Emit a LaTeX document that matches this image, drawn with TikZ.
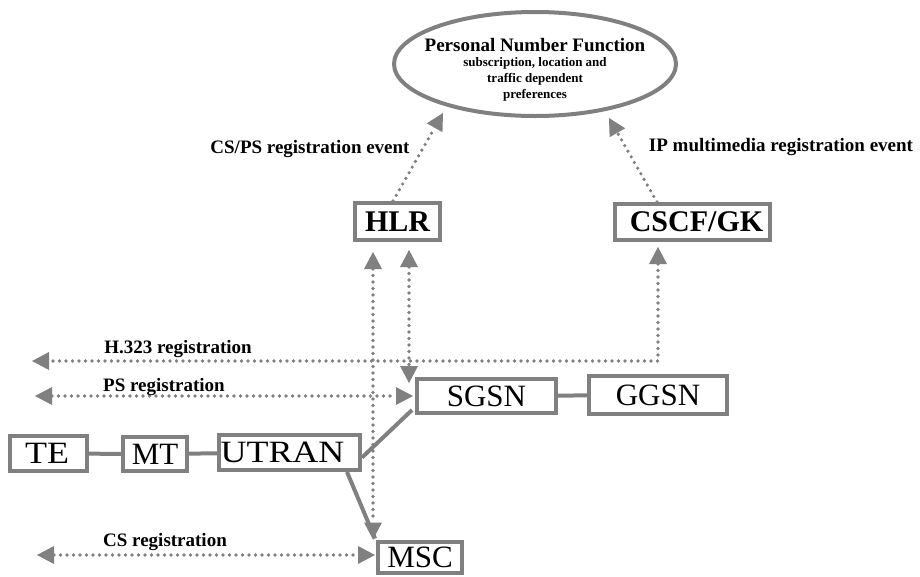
\documentclass[tikz,border=0pt]{standalone}
\usepackage{fontspec}
\setmainfont{Liberation Serif}
\usetikzlibrary{arrows.meta,shapes.geometric}
\definecolor{linegray}{RGB}{128,128,128}
\tikzset{
  box/.style={draw=linegray, line width=4pt, rectangle, inner sep=0pt,
    text=black, font=\fontsize{31}{36}\selectfont},
  boldbox/.style={box, font=\fontsize{30}{36}\selectfont\bfseries},
  lbl/.style={inner sep=0pt, text=black, font=\fontsize{19}{22}\selectfont\bfseries},
  link/.style={draw=linegray, line width=4pt},
  dotlink/.style={draw=linegray, line width=3.6pt, line cap=round,
    dash pattern=on 0pt off 6.5pt},
  tipend/.tip={Triangle[length=17pt,width=18pt,line width=0pt]},
}
\begin{document}
\begin{tikzpicture}[x=1pt,y=-1pt, >=tipend]
\useasboundingbox (0,0) rectangle (920,576);

% Personal number function
\node[draw=linegray, line width=4pt, ellipse, minimum width=282pt,
      minimum height=104pt, inner sep=0pt] (pnf) at (535,64) {};
\node[inner sep=0pt, font=\fontsize{19}{22}\selectfont\bfseries] (pnftitle) at (535,45)
  {Personal Number Function};
\node[inner sep=0pt, align=center, font=\fontsize{13}{16}\selectfont\bfseries] (pnfsub) at (535,79)
  {subscription, location and\\traffic dependent\\preferences};

% network elements
\node[boldbox, minimum width=85pt, minimum height=37pt] (hlr) at (397.5,221.5) {HLR};
\node[boldbox, minimum width=155pt, minimum height=36pt] (cscf) at (692.5,222) {\hspace*{8pt}CSCF/GK};
\node[box, minimum width=139pt, minimum height=34pt] (sgsn) at (486.5,396) {SGSN};
\node[box, minimum width=138pt, minimum height=38pt] (ggsn) at (658,395) {GGSN};
\node[box, minimum width=77pt, minimum height=35pt] (te) at (48.5,453.5) {\scalebox{1.16}[1]{TE}\hspace*{3pt}};
\node[box, minimum width=64pt, minimum height=34pt] (mt) at (155,454) {MT};
\node[box, minimum width=141pt, minimum height=35pt] (utran) at (289.5,452.5) {\scalebox{1.16}[1]{UTRAN}\hspace*{14pt}};
\node[box, minimum width=84pt, minimum height=31pt] (msc) at (420,557) {MSC};

% physical links
\draw[link] (te) -- (mt);
\draw[link] (mt) -- (utran);
\draw[link] (sgsn) -- (ggsn);
\draw[link] ([yshift=-5pt]utran.east) -- ([shift={(-3pt,5pt)}]sgsn.south west);
\draw[link] ([xshift=-15pt]utran.south east) -- ([shift={(-1pt,1pt)}]msc.north west);

% registration events towards the personal number function
\draw[dotlink,->] ([xshift=-4.5pt]hlr.north) -- ([xshift=-92pt,yshift=-49pt]pnf.center);
\draw[dotlink,->] ([xshift=-35.5pt]cscf.north) -- ([xshift=74pt,yshift=-54pt]pnf.center);
\node[lbl] (cspsev) at (310,149) {CS/PS registration event};
\node[lbl] (ipev) at (781,147) {IP multimedia registration event};

% HLR interrogations
\coordinate (hlrL) at ([xshift=-24.5pt,yshift=-10pt]hlr.south);
\coordinate (hlrR) at ([xshift=11.5pt,yshift=-8pt]hlr.south);
\path (hlrL |- msc.north) coordinate (mscT);
\path (hlrR |- sgsn.north) coordinate (sgsnT);
\draw[dotlink,<->] (hlrL) -- (mscT);
\draw[dotlink,<->] (hlrR) -- ([yshift=-6pt]sgsnT);

% registrations
\coordinate (h323end) at (32,361);
\coordinate (psend) at (35,396);
\coordinate (csend) at (37,555);
\draw[dotlink,<->] ([xshift=-34.5pt,yshift=-5pt]cscf.south) |- (h323end);
\draw[dotlink,<->] (psend) -- ([xshift=-2pt]psend -| sgsn.west);
\draw[dotlink,<->] (csend) -- ([xshift=-1pt]csend -| msc.west);
\node[lbl] (h323lbl) at (178,349) {H.323 registration};
\node[lbl] (pslbl) at (164,387) {PS registration};
\node[lbl] (cslbl) at (165,542) {CS registration};
\end{tikzpicture}
\end{document}
